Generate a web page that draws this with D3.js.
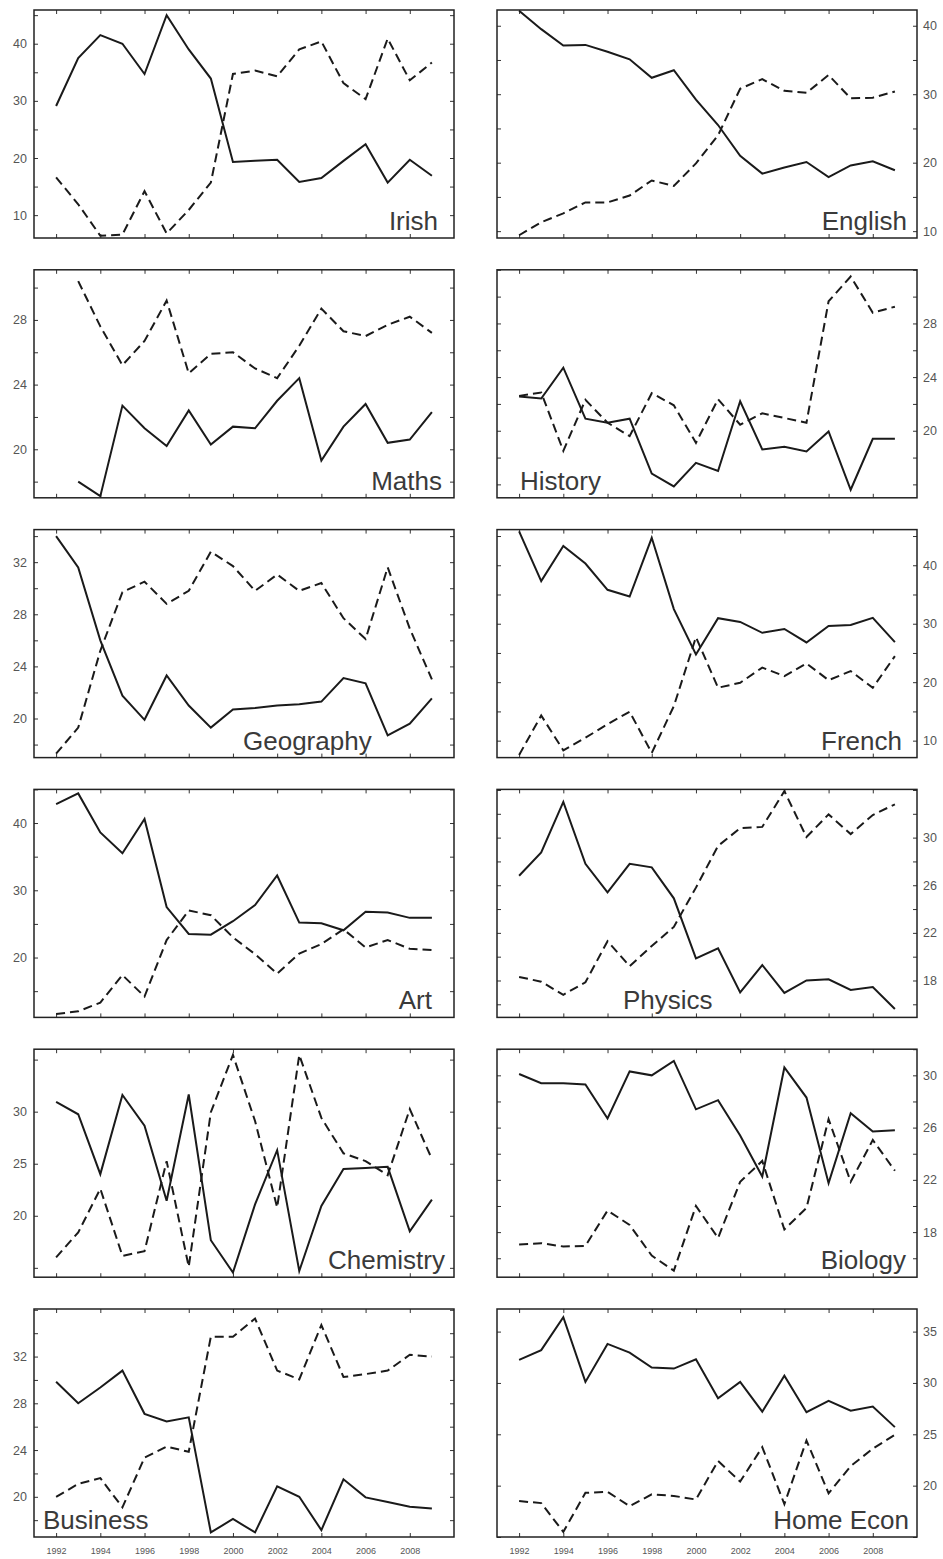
<!DOCTYPE html>
<html>
<head>
<meta charset="utf-8">
<script src="https://cdn.jsdelivr.net/npm/d3@7"></script>
<style>
  body { margin: 0; background: #fff; }
  svg { display: block; font-family: "Liberation Sans", Arial, sans-serif; }
</style>
</head>
<body>
<svg id="chart" width="943" height="1559"></svg>
<script>
/*global d3*/
const years = [1992, 1993, 1994, 1995, 1996, 1997, 1998, 1999, 2000, 2001, 2002, 2003, 2004, 2005, 2006, 2007, 2008, 2009]
const yearLabels = [1992, 1994, 1996, 1998, 2000, 2002, 2004, 2006, 2008]

const subjects = ["Irish", "English", "Maths", "History", "Geography", "French",
  "Art", "Physics", "Chemistry", "Biology", "Business", "Home Econ"]

// solid line per subject
const irishSolid = [29.1, 37.5, 41.5, 40.0, 34.7, 45.0, 39.0, 33.9, 19.3, 19.5, 19.7, 15.8, 16.5, 19.5, 22.4, 15.7, 19.7, 16.9]
const englishSolid = [42.2, 39.5, 37.1, 37.2, 36.2, 35.1, 32.4, 33.5, 29.2, 25.5, 21.0, 18.4, 19.3, 20.1, 17.9, 19.6, 20.2, 18.9]
const mathsSolid = [null, 18.0, 17.1, 22.7, 21.3, 20.2, 22.4, 20.3, 21.4, 21.3, 23.0, 24.4, 19.3, 21.4, 22.8, 20.4, 20.6, 22.3]
const historySolid = [22.55, 22.4, 24.7, 20.9, 20.6, 20.9, 16.8, 15.85, 17.6, 17.0, 22.2, 18.6, 18.8, 18.45, 19.95, 15.6, 19.4, 19.4]
const geographySolid = [34.0, 31.6, 26.0, 21.75, 19.9, 23.3, 21.0, 19.3, 20.7, 20.8, 21.0, 21.1, 21.3, 23.1, 22.7, 18.7, 19.6, 21.55]
const frenchSolid = [45.8, 37.3, 43.3, 40.3, 35.8, 34.65, 44.7, 32.5, 24.75, 30.95, 30.3, 28.45, 29.1, 26.8, 29.6, 29.8, 31.0, 26.85]
const artSolid = [42.8, 44.4, 38.6, 35.5, 40.6, 27.5, 23.5, 23.4, 25.4, 27.8, 32.2, 25.2, 25.1, 24.05, 26.8, 26.7, 25.9, 25.9]
const physicsSolid = [26.8, 28.75, 33.0, 27.8, 25.4, 27.8, 27.5, 24.9, 19.85, 20.7, 17.0, 19.3, 16.95, 18.0, 18.1, 17.2, 17.45, 15.6]
const chemistrySolid = [30.95, 29.75, 24.0, 31.6, 28.65, 21.45, 31.65, 17.65, 14.55, 21.1, 26.3, 14.7, 20.95, 24.5, 24.6, 24.7, 18.5, 21.55]
const biologySolid = [30.1, 29.4, 29.4, 29.3, 26.7, 30.3, 30.0, 31.1, 27.4, 28.1, 25.4, 22.25, 30.6, 28.3, 21.75, 27.1, 25.7, 25.8]
const businessSolid = [29.85, 28.0, 29.35, 30.8, 27.1, 26.45, 26.8, 16.95, 18.1, 16.95, 20.9, 20.0, 17.15, 21.5, 19.95, 19.55, 19.15, 19.0]
const homeEconSolid = [32.25, 33.2, 36.4, 30.1, 33.8, 32.95, 31.5, 31.4, 32.3, 28.5, 30.1, 27.2, 30.7, 27.15, 28.25, 27.3, 27.7, 25.7]

// dashed line per subject
const irishDashed = [16.6, 11.9, 6.4, 6.6, 14.2, 6.8, 10.9, 15.7, 34.7, 35.3, 34.3, 39.0, 40.4, 33.1, 30.3, 40.9, 33.6, 36.7]
const englishDashed = [9.4, 11.3, 12.6, 14.2, 14.2, 15.2, 17.4, 16.6, 19.9, 24.0, 30.8, 32.2, 30.5, 30.2, 32.8, 29.4, 29.5, 30.4]
const mathsDashed = [null, 30.4, 27.6, 25.2, 26.7, 29.2, 24.7, 25.9, 26.0, 25.0, 24.4, 26.4, 28.7, 27.3, 27.0, 27.7, 28.2, 27.2]
const historyDashed = [22.6, 22.85, 18.5, 22.3, 20.6, 19.6, 22.8, 21.9, 19.1, 22.35, 20.45, 21.3, 20.95, 20.6, 29.65, 31.5, 28.8, 29.25]
const geographyDashed = [17.3, 19.3, 25.2, 29.7, 30.5, 28.8, 29.8, 32.8, 31.7, 29.8, 31.05, 29.8, 30.4, 27.7, 26.1, 31.6, 26.9, 23.0]
const frenchDashed = [7.55, 14.3, 8.35, 10.5, 12.8, 14.95, 7.9, 15.9, 27.7, 19.05, 19.9, 22.5, 21.05, 23.2, 20.35, 21.9, 19.05, 24.45]
const artDashed = [11.6, 12.0, 13.3, 17.4, 14.2, 22.6, 27.0, 26.3, 23.0, 20.5, 17.6, 20.6, 22.0, 24.2, 21.5, 22.6, 21.3, 21.1]
const physicsDashed = [18.3, 17.9, 16.8, 17.85, 21.3, 19.2, 20.9, 22.5, 25.8, 29.3, 30.8, 30.9, 33.9, 30.05, 31.95, 30.3, 31.9, 32.8]
const chemistryDashed = [16.0, 18.4, 22.6, 16.15, 16.6, 25.25, 15.1, 29.95, 35.45, 29.1, 20.8, 35.45, 29.4, 26.0, 25.25, 23.9, 30.25, 25.45]
const biologyDashed = [17.05, 17.15, 16.9, 16.95, 19.65, 18.55, 16.2, 15.05, 20.0, 17.55, 21.85, 23.45, 18.2, 19.85, 26.65, 21.85, 25.05, 22.7]
const businessDashed = [20.0, 21.1, 21.6, 19.1, 23.35, 24.3, 23.85, 33.7, 33.7, 35.25, 30.8, 30.05, 34.7, 30.25, 30.5, 30.8, 32.15, 32.0]
const homeEconDashed = [18.5, 18.3, 15.5, 19.3, 19.4, 18.0, 19.15, 19.0, 18.65, 22.4, 20.4, 23.75, 18.2, 24.4, 19.25, 21.9, 23.6, 24.95]

// y axis extents, tick steps and labelled ticks
const yDomains = [[6, 45.9], [9, 42.3], [17, 31.1], [15, 32], [17, 34.5], [7.1, 46.1],
  [11.1, 45], [14.9, 34.05], [14.1, 36], [14.55, 32], [16.56, 36.07], [15, 37.2]]
const yTickStep = [5, 5, 2, 2, 2, 5, 5, 2, 5, 2, 2, 5]
const yLabels = [[10, 20, 30, 40], [10, 20, 30, 40], [20, 24, 28], [20, 24, 28], [20, 24, 28, 32], [10, 20, 30, 40],
  [20, 30, 40], [18, 22, 26, 30], [20, 25, 30], [18, 22, 26, 30], [20, 24, 28, 32], [20, 25, 30, 35]]

const solids = [irishSolid, englishSolid, mathsSolid, historySolid, geographySolid, frenchSolid,
  artSolid, physicsSolid, chemistrySolid, biologySolid, businessSolid, homeEconSolid]
const dashes = [irishDashed, englishDashed, mathsDashed, historyDashed, geographyDashed, frenchDashed,
  artDashed, physicsDashed, chemistryDashed, biologyDashed, businessDashed, homeEconDashed]

// title placement: anchor + offset from panel edge
const titlePos = [
  ["end", 16], ["end", 10], ["end", 12], ["start", 23], ["start", 209], ["end", 15],
  ["end", 22], ["start", 126], ["end", 9], ["end", 11], ["start", 9], ["end", 8]
]

const colX = [34, 497]
const panelW = 420
const panelH = 228
const rowTop = r => 10 + r * 259.8

const svg = d3.select("#chart")

subjects.forEach((name, i) => {
  const col = i % 2
  const row = Math.floor(i / 2)
  const x0 = colX[col], x1 = x0 + panelW
  const y0 = rowTop(row), y1 = y0 + panelH

  const x = d3.scaleLinear().domain([1991, 2010]).range([x0, x1])
  const y = d3.scaleLinear().domain(yDomains[i]).range([y1, y0])

  const g = svg.append("g").attr("class", "panel")

  // y ticks every step, labels only on some
  const [lo, hi] = yDomains[i]
  const step = yTickStep[i]
  const yt = d3.range(Math.ceil(lo / step) * step, hi + 0.001, step)
  const labFmt = d => yLabels[i].includes(d) ? d : ""
  const none = () => ""

  const leftAx = d3.axisLeft(y).tickValues(yt).tickSize(-4).tickPadding(7)
    .tickFormat(col === 0 ? labFmt : none)
  const rightAx = d3.axisRight(y).tickValues(yt).tickSize(-4).tickPadding(6)
    .tickFormat(col === 1 ? labFmt : none)
  const topAx = d3.axisTop(x).tickValues(yearLabels).tickSize(-4).tickFormat(none)
  const botAx = d3.axisBottom(x).tickValues(yearLabels).tickSize(-4).tickPadding(11)
    .tickFormat(row === 5 ? d => d : none)

  const ly = g.append("g").attr("transform", `translate(${x0},0)`).call(leftAx)
  const ry = g.append("g").attr("transform", `translate(${x1},0)`).call(rightAx)
  g.append("g").attr("transform", `translate(0,${y0})`).call(topAx)
  const bx = g.append("g").attr("transform", `translate(0,${y1})`).call(botAx)

  ly.selectAll("text").attr("font-size", 12.5)
  ry.selectAll("text").attr("font-size", 12.5)
  bx.selectAll("text").attr("font-size", 9)

  g.selectAll(".domain").remove()
  g.selectAll(".tick line").attr("stroke", "#333").attr("stroke-width", 1)
  g.selectAll(".tick text").attr("fill", "#555").attr("font-family", "Liberation Sans, Arial, sans-serif")

  const line = d3.line()
    .defined(d => d[1] != null)
    .x(d => x(d[0]))
    .y(d => y(d[1]))

  g.append("path")
    .datum(years.map((yr, k) => [yr, dashes[i][k]]))
    .attr("d", line)
    .attr("fill", "none")
    .attr("stroke", "#1a1a1a")
    .attr("stroke-width", 2)
    .attr("stroke-dasharray", "9,5")

  g.append("path")
    .datum(years.map((yr, k) => [yr, solids[i][k]]))
    .attr("d", line)
    .attr("fill", "none")
    .attr("stroke", "#1a1a1a")
    .attr("stroke-width", 2)

  // frame
  g.append("rect")
    .attr("x", x0).attr("y", y0)
    .attr("width", panelW).attr("height", panelH)
    .attr("fill", "none")
    .attr("stroke", "#222")
    .attr("stroke-width", 1.5)

  // subject name
  const [anchor, off] = titlePos[i]
  g.append("text")
    .attr("x", anchor === "end" ? x1 - off : x0 + off)
    .attr("y", y1 - 8)
    .attr("text-anchor", anchor)
    .attr("font-size", 26)
    .attr("fill", "#3a3a3a")
    .text(name)
})
</script>
</body>
</html>
